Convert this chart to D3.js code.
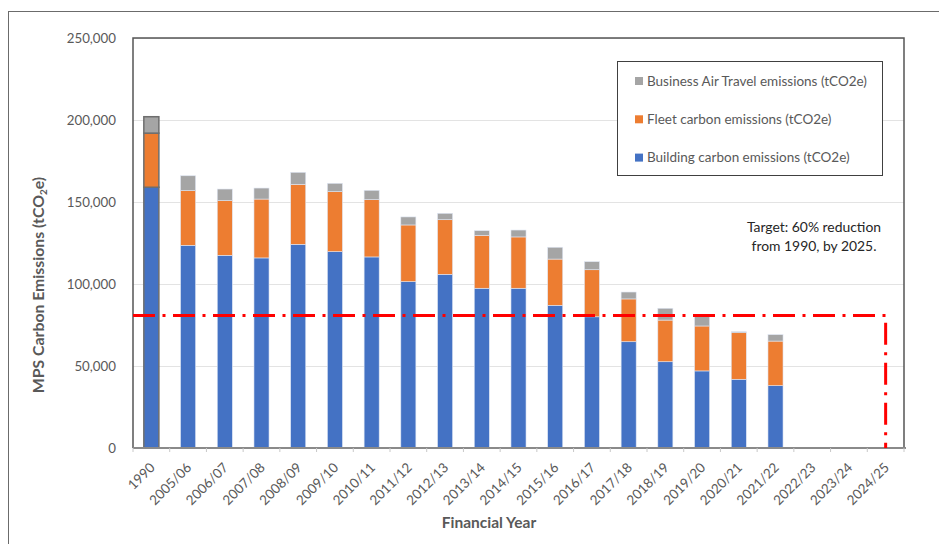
<!DOCTYPE html>
<html>
<head>
<meta charset="utf-8">
<script src="https://cdn.jsdelivr.net/npm/d3@7"></script>
<style>
  html, body { margin: 0; padding: 0; background: #fff; }
  svg { display: block; font-family: Lato, "Open Sans", sans-serif; }
</style>
</head>
<body>
<svg id="chart" width="939" height="544"></svg>
<script>
// Financial years on the x axis
const years = ["1990", "2005/06", "2006/07", "2007/08", "2008/09", "2009/10", "2010/11",
  "2011/12", "2012/13", "2013/14", "2014/15", "2015/16", "2016/17", "2017/18", "2018/19",
  "2019/20", "2020/21", "2021/22", "2022/23", "2023/24", "2024/25"];

// Emissions per year, tCO2e (null = no data yet)
const building = [159000, 123600, 117500, 115900, 124200, 119700, 116500, 101400, 105900,
  97400, 97400, 87000, 80000, 64800, 52600, 47000, 41900, 38000, null, null, null];
const fleet = [33000, 33300, 33300, 35900, 36600, 36600, 34900, 34600, 33300,
  32300, 31300, 28200, 28700, 26100, 25400, 27400, 28400, 27200, null, null, null];
const airTravel = [10000, 9100, 7100, 6700, 7300, 5100, 5700, 4900, 3900,
  2800, 4200, 7200, 4900, 4200, 7200, 5900, 600, 3900, null, null, null];

const yTicks = [0, 50000, 100000, 150000, 200000, 250000];

// Target: 60% cut on the 1990 total by 2024/25
const baseline = building[0] + fleet[0] + airTravel[0];
const target = baseline * 0.4;
const targetYear = "2024/25";

const seriesInfo = [
  { key: "building", label: "Building carbon emissions (tCO2e)", color: "#4472C4", values: building },
  { key: "fleet", label: "Fleet carbon emissions (tCO2e)", color: "#ED7D31", values: fleet },
  { key: "air", label: "Business Air Travel emissions (tCO2e)", color: "#A5A5A5", values: airTravel }
];

const svg = d3.select("#chart");
const plot = { left: 133, right: 904, top: 38, bottom: 448 };
const textGrey = "#595959";

// outer frame
svg.append("rect").attr("x", 8.5).attr("y", 11.5).attr("width", 940).attr("height", 540)
  .attr("fill", "none").attr("stroke", "#6b6b6b").attr("stroke-width", 1);

const x = d3.scaleBand().domain(years).range([plot.left, plot.right])
  .paddingInner(0.59).paddingOuter(0.295);
const y = d3.scaleLinear().domain([0, 250000]).range([plot.bottom, plot.top]);

// gridlines
svg.append("g").selectAll("line").data(yTicks.slice(1)).join("line")
  .attr("x1", plot.left).attr("x2", plot.right)
  .attr("y1", d => Math.round(y(d)) + 0.5).attr("y2", d => Math.round(y(d)) + 0.5)
  .attr("stroke", "#e3e3e3").attr("stroke-width", 1.2);

// y tick labels
svg.append("g").selectAll("text").data(yTicks).join("text")
  .attr("x", 116).attr("y", d => y(d)).attr("dy", "0.35em")
  .attr("text-anchor", "end").attr("fill", textGrey).attr("font-size", 13.3)
  .text(d => d3.format(",")(d));

// stacked bars
const rows = years.map((yr, i) => ({ year: yr, building: building[i] || 0, fleet: fleet[i] || 0, air: airTravel[i] || 0 }));
const stack = d3.stack().keys(["building", "fleet", "air"])(rows);
const colorOf = { building: "#4472C4", fleet: "#ED7D31", air: "#A5A5A5" };

svg.append("g").selectAll("g").data(stack).join("g")
  .attr("fill", d => colorOf[d.key])
  .selectAll("rect").data(d => d.filter(p => p[1] > p[0])).join("rect")
  .attr("x", d => x(d.data.year)).attr("width", x.bandwidth())
  .attr("y", d => y(d[1])).attr("height", d => y(d[0]) - y(d[1]))
  .attr("stroke", d => d.data.year === "1990" ? "#6e6e6e" : "#dfe6f3")
  .attr("stroke-width", d => d.data.year === "1990" ? 1.5 : 0.6);

// plot border (top, left, right)
svg.append("path")
  .attr("d", `M${plot.left},${plot.bottom}V${plot.top}H${plot.right}V${plot.bottom}`)
  .attr("fill", "none").attr("stroke", "#555").attr("stroke-width", 1.5);

// x axis
const xAxis = svg.append("g").attr("transform", `translate(0,${plot.bottom})`);
xAxis.append("line").attr("x1", plot.left).attr("x2", plot.right + 2)
  .attr("stroke", "#8a8a8a").attr("stroke-width", 2.2);
xAxis.selectAll("line.tick").data(years.concat(["end"])).join("line")
  .attr("class", "tick")
  .attr("x1", (d, i) => plot.left + i * x.step()).attr("x2", (d, i) => plot.left + i * x.step())
  .attr("y1", 0).attr("y2", 4).attr("stroke", "#c8c8c8").attr("stroke-width", 1);
xAxis.selectAll("text").data(years).join("text")
  .attr("transform", d => `translate(${x(d) + x.bandwidth() / 2 + 1},${17}) rotate(-45)`)
  .attr("text-anchor", "end").attr("dy", "0.35em")
  .attr("fill", textGrey).attr("font-size", 13.5).text(d => d);

// target line (dash-dot)
const tx = x(targetYear) + x.bandwidth() / 2;
svg.append("path")
  .attr("d", `M${plot.left},${y(target)}H${tx}V${plot.bottom}`)
  .attr("fill", "none").attr("stroke", "#FF0000").attr("stroke-width", 3)
  .attr("stroke-dasharray", "22,7.5,3,7.5");

// target note
const note = svg.append("text").attr("text-anchor", "middle").attr("fill", "#262626").attr("font-size", 13.9);
note.append("tspan").attr("x", 814).attr("y", 232).text("Target: 60% reduction");
note.append("tspan").attr("x", 814).attr("y", 251).text("from 1990, by 2025.");

// axis titles
svg.append("text").attr("x", 489).attr("y", 528).attr("text-anchor", "middle")
  .attr("font-weight", "bold").attr("font-size", 15.5).attr("fill", textGrey).text("Financial Year");

const yTitle = svg.append("text").attr("transform", "translate(44,285) rotate(-90)")
  .attr("text-anchor", "middle").attr("font-weight", "bold").attr("font-size", 15.8).attr("fill", textGrey);
yTitle.append("tspan").text("MPS Carbon Emissions (tCO");
yTitle.append("tspan").attr("font-size", 10).attr("dy", 3).text("2");
yTitle.append("tspan").attr("dy", -3).text("e)");

// legend
const lg = svg.append("g");
lg.append("rect").attr("x", 617.5).attr("y", 61.5).attr("width", 265).attr("height", 114)
  .attr("fill", "#fff").attr("stroke", "#404040").attr("stroke-width", 1);
const legendRows = [seriesInfo[2], seriesInfo[1], seriesInfo[0]];
const item = lg.selectAll("g").data(legendRows).join("g")
  .attr("transform", (d, i) => `translate(635,${81 + i * 38.3})`);
item.append("rect").attr("x", 0).attr("y", -4).attr("width", 8).attr("height", 8).attr("fill", d => d.color);
item.append("text").attr("x", 12).attr("dy", "0.35em").attr("font-size", 13.5)
  .attr("fill", textGrey).text(d => d.label);
</script>
</body>
</html>
